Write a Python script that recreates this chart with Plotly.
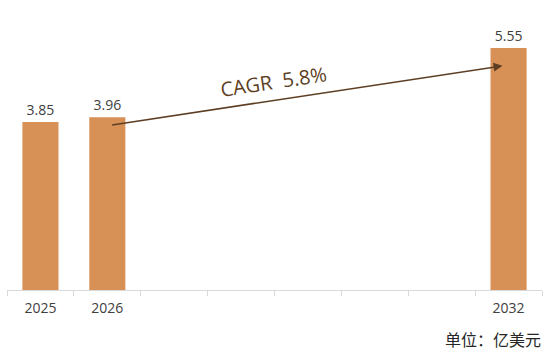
import plotly.graph_objects as go

years = ["2025", "2026", "2027", "2028", "2029", "2030", "2031", "2032"]
values = [3.85, 3.96, None, None, None, None, None, 5.55]
tick_labels = ["2025", "2026", "", "", "", "", "", "2032"]
labels = ["3.85", "3.96", "", "", "", "", "", "5.55"]
cagr_text = "CAGR  5.8%"
unit_text = "单位：亿美元"

bar_color = "#D79157"
font_fam = "Open Sans, Noto Sans CJK SC, sans-serif"

fig = go.Figure()
fig.add_trace(go.Bar(
    x=years, y=values, marker=dict(color=bar_color, line=dict(width=0)),
    width=0.54, text=labels, textposition="outside",
    textfont=dict(size=14, color="#404040", family=font_fam),
    cliponaxis=False, hoverinfo="skip",
))

fig.update_layout(
    width=552, height=353,
    margin=dict(l=7, r=10, t=20, b=63),
    paper_bgcolor="white", plot_bgcolor="white",
    showlegend=False,
    xaxis=dict(
        type="category", tickvals=years, ticktext=tick_labels,
        tickson="boundaries", ticks="outside", ticklen=5, tickcolor="#D9D9D9",
        showline=True, linecolor="#D9D9D9", linewidth=1, showgrid=False,
        ticklabelstandoff=5,
        tickfont=dict(size=14, color="#404040", family=font_fam),
    ),
    yaxis=dict(range=[0, 6.19], visible=False, showgrid=False),
)

# CAGR arrow
fig.add_annotation(
    x=6.91, y=5.14, ax=1.05, ay=3.78, xref="x", yref="y", axref="x", ayref="y",
    showarrow=True, arrowhead=2, arrowsize=1.2, arrowwidth=1.5, arrowcolor="#5E3F24",
    text="",
)
fig.add_annotation(
    x=3.49, y=4.77, xref="x", yref="y", text=cagr_text, showarrow=False,
    textangle=-8.6, font=dict(size=20, color="#5E3F24", family=font_fam),
)
fig.add_annotation(
    x=1.002, y=-0.185, xref="paper", yref="paper", text=unit_text, showarrow=False,
    font=dict(size=16, color="#262626", family=font_fam),
    xanchor="right", yanchor="middle",
)

fig.write_html("out.html")
